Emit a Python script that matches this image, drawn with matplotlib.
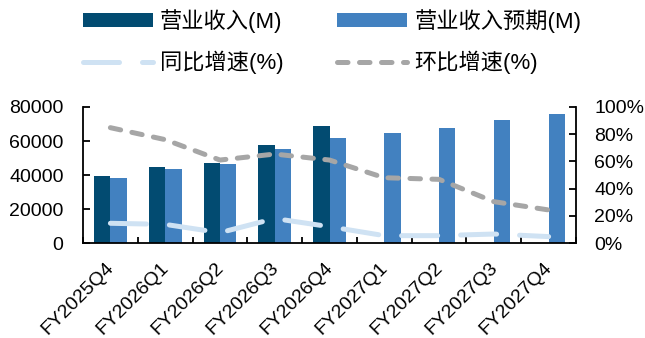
import matplotlib
matplotlib.use("Agg")
import matplotlib.pyplot as plt
import matplotlib.transforms as mtransforms
from matplotlib.lines import Line2D
from matplotlib.patches import Patch
import numpy as np

categories = ["FY2025Q4", "FY2026Q1", "FY2026Q2", "FY2026Q3", "FY2026Q4",
              "FY2027Q1", "FY2027Q2", "FY2027Q3", "FY2027Q4"]
revenue_actual = [39600, 44500, 47200, 57600, 68800]
revenue_forecast = [38400, 43700, 46600, 55500, 61600, 64500, 67800, 72300, 75700]
yoy_growth = [0.145, 0.137, 0.076, 0.180, 0.120, 0.054, 0.054, 0.066, 0.047]
qoq_growth = [0.848, 0.760, 0.610, 0.654, 0.610, 0.480, 0.468, 0.304, 0.243]
left_ticks = [0, 20000, 40000, 60000, 80000]
right_ticks = [0, 0.2, 0.4, 0.6, 0.8, 1.0]

legend_labels = ["营业收入(M)", "营业收入预期(M)", "同比增速(%)", "环比增速(%)"]

c_dark = "#024B71"
c_light = "#4281C0"
c_yoy = "#CFE2F3"
c_qoq = "#A6A6A6"

plt.rcParams['font.family'] = ['Liberation Sans', 'Noto Sans CJK SC', 'DejaVu Sans']

fig = plt.figure(figsize=(6.45, 3.38), dpi=100)
ax = fig.add_axes([83/645, 1-243/338, (576-83)/645, (243-107)/338])

x = np.arange(len(categories))
w = 0.3
ax.bar(x[:len(revenue_actual)] - w/2, revenue_actual, width=w, color=c_dark, zorder=2)
ax.bar(x + w/2, revenue_forecast, width=w, color=c_light, zorder=2)

ax.set_xlim(-0.5, len(categories) - 0.5)
ax.set_ylim(0, 80000)
ax.set_yticks(left_ticks)
ax.set_yticklabels([str(v) for v in left_ticks], fontsize=14)

ax.set_xticks(np.arange(len(categories) + 1) - 0.5)
ax.set_xticklabels([])
ax.set_xticks(x, minor=True)
ax.set_xticklabels(categories, minor=True, rotation=45, ha='right', va='center',
                   rotation_mode='anchor', fontsize=14)
ax.tick_params(axis='x', which='minor', length=0, pad=0)
ax.tick_params(axis='x', which='major', direction='in', length=4, width=1.3)
ax.tick_params(axis='y', direction='in', length=5, width=1.3, pad=14)
offset = mtransforms.ScaledTranslation(1/100, -22/100, fig.dpi_scale_trans)
for lbl in ax.xaxis.get_minorticklabels():
    lbl.set_transform(lbl.get_transform() + offset)

for s in ['top', 'right']:
    ax.spines[s].set_visible(False)
for s in ['left', 'bottom']:
    ax.spines[s].set_linewidth(1.3)

ax2 = ax.twinx()
ax2.set_ylim(0, 1.0)
ax2.set_yticks(right_ticks)
ax2.set_yticklabels([f"{int(round(v*100))}%" for v in right_ticks], fontsize=14)
ax2.tick_params(axis='y', direction='in', length=5, width=1.3, pad=13)
for s in ['top', 'left', 'bottom']:
    ax2.spines[s].set_visible(False)
ax2.spines['right'].set_linewidth(1.3)

yoy_dash = (7.2, 4.6)
qoq_dash = (2.1, 2.3)
l1, = ax2.plot(x, yoy_growth, color=c_yoy, lw=3.6, dash_capstyle='round',
               solid_capstyle='round', zorder=3)
l1.set_dashes(yoy_dash)
l2, = ax2.plot(x, qoq_growth, color=c_qoq, lw=3.6, dash_capstyle='round',
               solid_capstyle='round', zorder=3)
l2.set_dashes(qoq_dash)

h1 = Patch(facecolor=c_dark)
h2 = Patch(facecolor=c_light)
h3 = Line2D([], [], color=c_yoy, lw=3.6, dash_capstyle='round')
h3.set_dashes(yoy_dash)
h4 = Line2D([], [], color=c_qoq, lw=3.6, dash_capstyle='round')
h4.set_dashes(qoq_dash)

leg = fig.legend([h1, h3, h2, h4], [legend_labels[0], legend_labels[2], legend_labels[1], legend_labels[3]],
                 ncol=2, loc='upper left', bbox_to_anchor=(83/645, 1 - 9/338),
                 frameon=False, handlelength=3.15, handleheight=0.6, handletextpad=0.32,
                 columnspacing=2.4, labelspacing=0.8, borderpad=0, borderaxespad=0,
                 prop={'family': ['Liberation Sans', 'Noto Sans CJK SC', 'DejaVu Sans'], 'size': 16})

fig.savefig("out.png", dpi=100)
